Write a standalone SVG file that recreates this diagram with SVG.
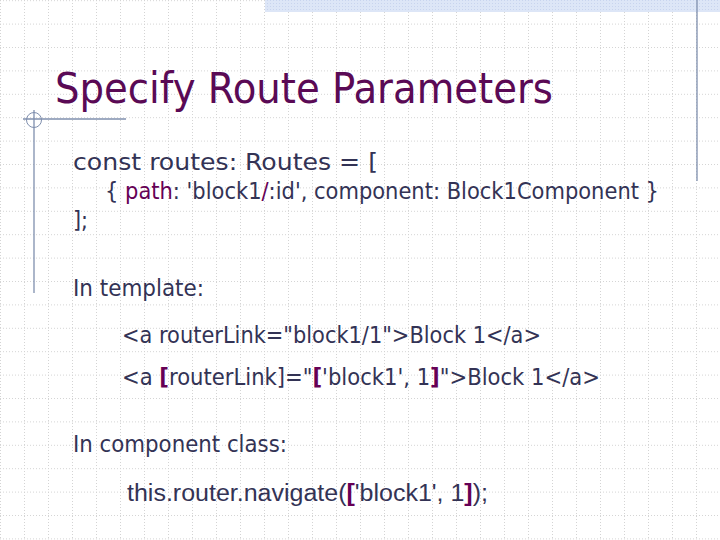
<svg xmlns="http://www.w3.org/2000/svg" width="720" height="540" viewBox="0 0 720 540">
<defs>
<pattern id="gv" width="24" height="540" patternUnits="userSpaceOnUse" x="0" y="0"><line x1="0.5" y1="0" x2="0.5" y2="540" stroke="#d4d4d4" stroke-dasharray="1,2"/></pattern>
<pattern id="gh" width="720" height="23.4" patternUnits="userSpaceOnUse" x="0" y="0.2"><line x1="0" y1="0.5" x2="720" y2="0.5" stroke="#d4d4d4" stroke-dasharray="1,2"/></pattern>
<pattern id="bar" width="3" height="3" patternUnits="userSpaceOnUse"><rect width="3" height="3" fill="#dde6f7"/><rect width="1" height="1" fill="#c8d4ee"/></pattern>
</defs>
<style>
.t{font-family:"DejaVu Sans Condensed","DejaVu Sans",Verdana,sans-serif;font-size:23px;fill:#333355}
.p{fill:#660055}
.b{fill:#660055;font-weight:bold}
</style>
<rect width="720" height="540" fill="#fff"/>
<rect width="720" height="540" fill="url(#gv)"/>
<rect width="720" height="540" fill="url(#gh)"/>
<rect x="265" y="0" width="455" height="12" fill="url(#bar)"/>
<g id="decor" stroke="#7f8fae" stroke-width="1.3" fill="none">
<line x1="697" y1="0" x2="697" y2="181"/>
<line x1="23" y1="119" x2="126" y2="119"/>
<line x1="34" y1="110" x2="34" y2="293"/>
<circle cx="34" cy="120" r="7.5" stroke-width="1"/>
</g>
<text id="title" x="55" y="103" font-family="DejaVu Sans Condensed,DejaVu Sans,Verdana,sans-serif" font-size="43" fill="#5a0a55" textLength="498" lengthAdjust="spacingAndGlyphs">Specify Route Parameters</text>
<g id="body">
<text class="t" x="73" y="170" textLength="305" lengthAdjust="spacingAndGlyphs">const routes: Routes = [</text>
<text class="t" x="105" y="199" textLength="554" lengthAdjust="spacingAndGlyphs">{ <tspan class="p">path</tspan>: 'block1<tspan class="p">/</tspan>:id', component: Block1Component }</text>
<text class="t" x="73" y="228">];</text>
<text class="t" x="73" y="296" textLength="131" lengthAdjust="spacingAndGlyphs">In template:</text>
<text class="t" x="122" y="343" textLength="419" lengthAdjust="spacingAndGlyphs">&lt;a routerLink="block1/1"&gt;Block 1&lt;/a&gt;</text>
<text class="t" x="122" y="385" textLength="478" lengthAdjust="spacingAndGlyphs">&lt;a <tspan class="b">[</tspan>routerLink]="<tspan class="b">[</tspan>'block1', 1<tspan class="b">]</tspan>"&gt;Block 1&lt;/a&gt;</text>
<text class="t" x="73" y="452" textLength="214" lengthAdjust="spacingAndGlyphs">In component class:</text>
<text class="t" x="127" y="501" textLength="361" lengthAdjust="spacingAndGlyphs" style="font-family:'Liberation Sans',Arial,sans-serif;font-size:23px">this.router.navigate(<tspan class="b">[</tspan>'block1', 1<tspan class="b">]</tspan>);</text>
</g>
</svg>
